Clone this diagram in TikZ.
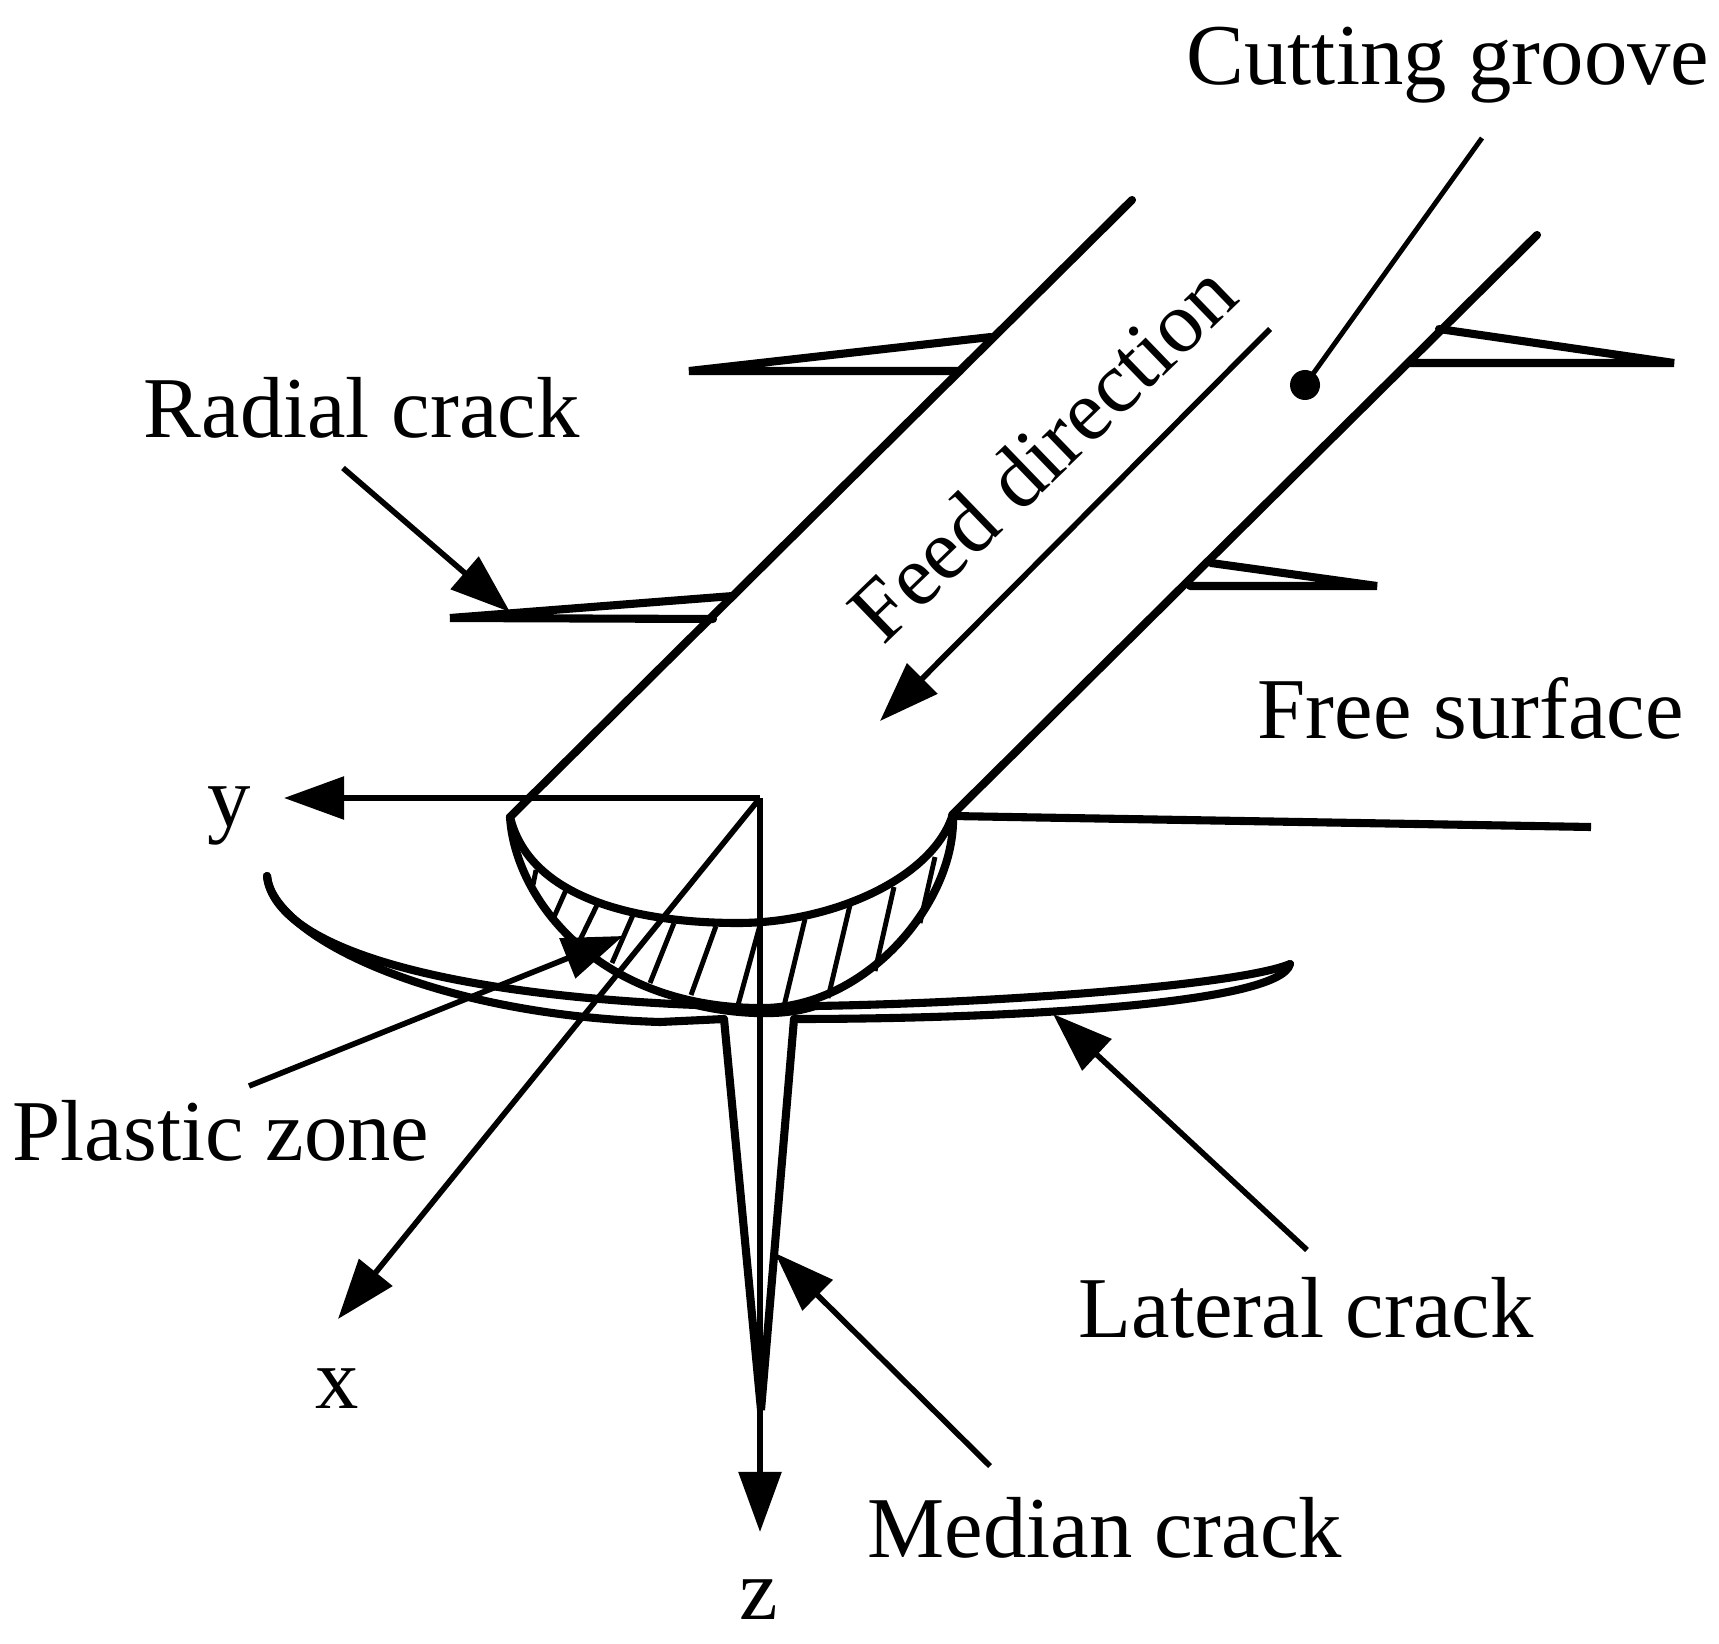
\documentclass[tikz,border=0pt]{standalone}
\usepackage{fontspec}
\setmainfont{Liberation Serif}
\usetikzlibrary{arrows.meta}
\tikzset{
  lbl/.style={font=\fontsize{24.65}{28}\selectfont, inner sep=0pt, anchor=base west},
  axislbl/.style={font=\fontsize{24.65}{28}\selectfont, inner sep=0pt, anchor=base},
  edgeline/.style={line width=2.3pt, line cap=round, line join=round},
  thinline/.style={line width=1.4pt},
  leader/.style={line width=1.6pt, ->}
}
\begin{document}
\begin{tikzpicture}[x=0.01cm,y=-0.01cm,>={Triangle[length=6mm,width=4.2mm]}]
\useasboundingbox (0,0) rectangle (1719,1643);
% labels
\node[lbl] (groovelbl) at (1186,85) {Cutting groove};
\node[lbl] (radiallbl) at (143,438) {Radial crack};
\node[lbl] (freelbl) at (1257,738) {Free surface};
\node[lbl] (plasticlbl) at (12,1160) {Plastic zone};
\node[lbl] (laterallbl) at (1078,1337) {Lateral crack};
\node[lbl] (medianlbl) at (867,1557) {Median crack};
\node[font=\fontsize{24.65}{28}\selectfont, inner sep=0pt, rotate=44] (feedlbl) at (1042,452) {Feed direction};
\node[axislbl] (ylbl) at (229,826) {y};
\node[axislbl] (xlbl) at (337,1408) {x};
\node[axislbl] (zlbl) at (759,1619) {z};
% groove edges
\draw[edgeline] (510,817) -- (1132,200);
\draw[edgeline] (952,815) -- (1537,235);
% radial cracks
\draw[edgeline, line join=miter] (991,337) -- (689,371) -- (960,371);
\draw[edgeline, line join=miter] (733,596) -- (450,618) -- (713,619);
\draw[edgeline, line join=miter] (1439,329) -- (1674,363) -- (1409,363);
\draw[edgeline, line join=miter] (1211,563) -- (1377,586) -- (1190,586);
\draw[line width=2.3pt] (952,816) -- (1591,827);
% plastic zone
\draw[edgeline] (510,817) .. controls (530,900) and (640,923) .. (738,923) .. controls (830,923) and (930,880) .. (952,817);
\draw[edgeline] (510,817) .. controls (515,900) and (600,1010) .. (766,1008) .. controls (870,1005) and (955,900) .. (953,817);
\foreach \xa/\ya/\xb/\yb in {536/870/533/885, 566/890/554/917, 598/903/580/940, 633/915/612/963, 674/923/650/983, 716/926/691/995, 760/925/738/1005, 805/919/784/1006, 850/905/828/998, 894/887/875/971, 935/857/920/923}
  \draw[thinline] (\xa,\ya) -- (\xb,\yb);
% lateral and median crack
\draw[edgeline] (267,876) .. controls (275,950) and (450,995) .. (696,1005) .. controls (730,1013) and (780,1018) .. (815,1006) .. controls (1000,1003) and (1240,985) .. (1290,964);
\draw[edgeline] (267,876) .. controls (272,935) and (430,1015) .. (660,1022) -- (724,1019);
\draw[edgeline] (794,1019) .. controls (1000,1019) and (1280,1005) .. (1290,964);
\draw[edgeline, line join=miter] (724,1019) -- (761,1410) -- (794,1019);
% axes
\coordinate (origin) at (760,798);
\coordinate (ytip) at (284,798);
\coordinate (xtip) at (338,1319);
\coordinate (ztip) at (760,1532);
\draw[leader] (origin) -- (ytip);
\draw[leader] (origin) -- (xtip);
\draw[leader] (origin) -- (ztip);
% leaders
\coordinate (feedstart) at (1270,329);
\coordinate (feedtip) at (880,721);
\draw[leader] (feedstart) -- (feedtip);
\coordinate (groovestart) at (1482,138);
\coordinate (groovedot) at (1305,385);
\draw[thinline] (groovestart) -- (groovedot);
\fill (groovedot) circle[radius=15];
\coordinate (radialstart) at (343,468);
\coordinate (radialtip) at (510,612);
\draw[leader] (radialstart) -- (radialtip);
\coordinate (plasticstart) at (249,1086);
\coordinate (plastictip) at (623,936);
\draw[leader] (plasticstart) -- (plastictip);
\coordinate (lateralstart) at (1307,1250);
\coordinate (lateraltip) at (1053,1014);
\draw[leader] (lateralstart) -- (lateraltip);
\coordinate (medianstart) at (990,1466);
\coordinate (mediantip) at (775,1253);
\draw[leader] (medianstart) -- (mediantip);
\end{tikzpicture}
\end{document}
